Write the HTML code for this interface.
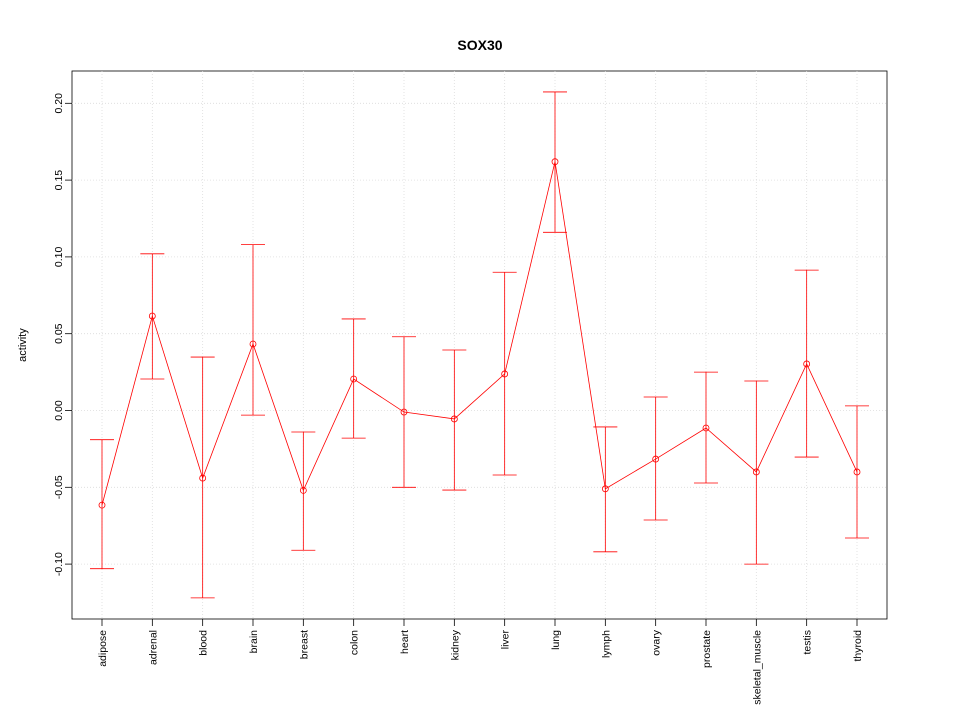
<!DOCTYPE html>
<html><head><meta charset="utf-8"><style>
body{margin:0;background:#fff}
svg text{font-family:"Liberation Sans",sans-serif;fill:#000}
</style></head><body>
<svg id="chart" width="960" height="720">
<text x="480" y="50" text-anchor="middle" font-weight="bold" font-size="14">SOX30</text>
<text transform="translate(26,345) rotate(-90)" text-anchor="middle" font-size="11">activity</text>
<rect x="72" y="71" width="815" height="548" fill="none" stroke="#000" stroke-width="0.8"/>
<g id="grid"></g><g id="axes"></g><g id="series"></g>
</svg>
<script>
const categories=["adipose","adrenal","blood","brain","breast","colon","heart","kidney","liver","lung","lymph","ovary","prostate","skeletal_muscle","testis","thyroid"];
const means=[-0.0616,0.0615,-0.044,0.0433,-0.052,0.0205,-0.001,-0.0055,0.0238,0.162,-0.051,-0.0316,-0.0114,-0.040,0.0303,-0.040];
const uppers=[-0.019,0.102,0.0348,0.108,-0.014,0.0596,0.048,0.0394,0.090,0.2074,-0.0107,0.0088,0.025,0.0192,0.0914,0.003];
const lowers=[-0.103,0.0205,-0.122,-0.003,-0.091,-0.018,-0.050,-0.0518,-0.042,0.116,-0.092,-0.0713,-0.0472,-0.100,-0.0303,-0.083];
const yTicks=[-0.10,-0.05,0.00,0.05,0.10,0.15,0.20];
const yTickLabels=["-0.10","-0.05","0.00","0.05","0.10","0.15","0.20"];
const NS="http://www.w3.org/2000/svg";
const xs=i=>102+i*(857-102)/(categories.length-1);
const ys=v=>410.5-v*1536;
function mk(parent,tag,attrs){const e=document.createElementNS(NS,tag);for(const k in attrs)e.setAttribute(k,attrs[k]);document.getElementById(parent).appendChild(e);return e;}
yTicks.forEach((t,i)=>{
  const y=ys(t);
  let g=mk('grid','line',{x1:72,x2:887,y1:y,y2:y,stroke:'#dcdcdc','stroke-width':0.8,'stroke-dasharray':'1,2'});
  
  
  let tk=mk('axes','line',{x1:65,x2:72,y1:y,y2:y,stroke:'#000','stroke-width':0.8});
  
  
  let tx=mk('axes','text',{transform:`translate(62,${y}) rotate(-90)`,'text-anchor':'middle','font-size':10.5});
  tx.textContent=yTickLabels[i];
  
  
});
categories.forEach((c,i)=>{
  const x=xs(i);
  let g=mk('grid','line',{x1:x,x2:x,y1:71,y2:619,stroke:'#dcdcdc','stroke-width':0.8,'stroke-dasharray':'1,2'});
  
  
  let tk=mk('axes','line',{x1:x,x2:x,y1:619,y2:626,stroke:'#000','stroke-width':0.8});
  
  
  let tx=mk('axes','text',{transform:`translate(${x+4},630) rotate(-90)`,'text-anchor':'end','font-size':10.5});
  tx.textContent=c;
  
  
});
let pts=means.map((v,i)=>xs(i)+','+ys(v)).join(' ');
let pl=mk('series','polyline',{points:pts,fill:'none',stroke:'#ff0000','stroke-width':0.8});


categories.forEach((c,i)=>{
  const x=xs(i),yu=ys(uppers[i]),yl=ys(lowers[i]);
  let e=mk('series','path',{d:`M${x},${yu}V${yl}M${x-12},${yu}H${x+12}M${x-12},${yl}H${x+12}`,stroke:'#ff0000','stroke-width':0.8,fill:'none'});
  
  
  let p=mk('series','circle',{cx:x,cy:ys(means[i]),r:3,fill:'none',stroke:'#ff0000','stroke-width':0.8});
  
  
});
</script>
</body></html>
